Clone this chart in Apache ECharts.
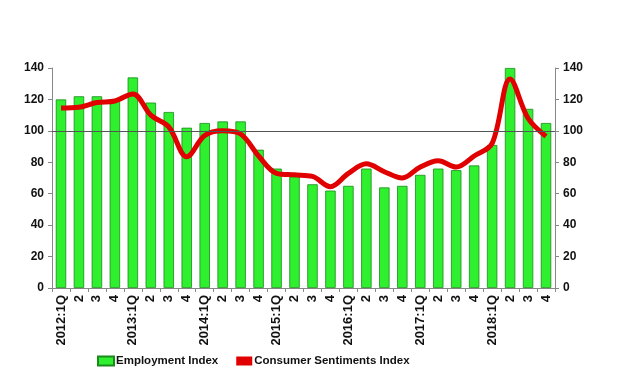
<!DOCTYPE html>
<html><head><meta charset="utf-8">
<script src="https://cdn.jsdelivr.net/npm/echarts@6/dist/echarts.min.js"></script>
<style>html,body{margin:0;padding:0;background:#fff}#c{width:618px;height:377px}</style>
</head><body><div id="c"></div>
<script>
const categories = ["2012:1Q","2","3","4","2013:1Q","2","3","4","2014:1Q","2","3","4","2015:1Q","2","3","4","2016:1Q","2","3","4","2017:1Q","2","3","4","2018:1Q","2","3","4"];
const employmentIndex = [120,122,122,119,134,118,112,102,105,106,106,88,76,71,66,62,65,76,64,65,72,76,75,78,91,140,114,105];
const consumerSentimentsIndex = [114.5,115,118,119,123.5,110,102.5,83.5,97,100,98,84,73,72,71,64.5,73,79,74,70,77,81,77,84,92,133,108,96.5];
const yTicks = [0,20,40,60,80,100,120,140];

const font = '"Liberation Sans", Arial, sans-serif';
const chart = echarts.init(document.getElementById('c'));
const yAxisCommon = {
  type: 'value', min: 0, max: 140, interval: 20,
  axisLine: {show: true, lineStyle: {color: '#888', width: 1}},
  axisTick: {show: true, length: 4, lineStyle: {color: '#888'}},
  splitLine: {show: false},
  axisLabel: {color: '#111', fontFamily: font, fontWeight: 'bold', fontSize: 12,
    formatter: v => yTicks.includes(v) ? String(v) : ''}
};
chart.setOption({
  animation: false,
  grid: {left: 52, right: 63, top: 68, bottom: 89, containLabel: false},
  legend: {
    bottom: 5, left: 92, itemGap: 18, itemWidth: 16, itemHeight: 9,
    textStyle: {color: '#111', fontFamily: font, fontWeight: 'bold', fontSize: 11.5, padding: [0, 0, 0, -3]},
    data: [
      {name: 'Employment Index', icon: 'rect'},
      {name: 'Consumer Sentiments Index', icon: 'rect', itemStyle: {color: '#e00000'}}
    ]
  },
  xAxis: {
    type: 'category', data: categories,
    axisLine: {lineStyle: {color: '#888'}},
    axisTick: {show: true, alignWithLabel: false, length: 4, lineStyle: {color: '#888'}},
    axisLabel: {rotate: 90, interval: 0, color: '#111', fontFamily: font, fontWeight: 'bold', fontSize: 13, margin: 7}
  },
  yAxis: [Object.assign({position: 'left'}, yAxisCommon), Object.assign({position: 'right'}, yAxisCommon)],
  series: [
    {
      name: 'Employment Index', type: 'bar', data: employmentIndex, barWidth: '58%',
      itemStyle: {color: '#2ef02e', borderColor: '#1a8a1a', borderWidth: 0.8},
      markLine: {
        silent: true, symbol: 'none', label: {show: false},
        lineStyle: {color: '#555', type: 'solid', width: 1.2},
        data: [{yAxis: 100}]
      },
      z: 2
    },
    {
      name: 'Consumer Sentiments Index', type: 'line', data: consumerSentimentsIndex,
      smooth: 0.35, showSymbol: false, symbol: 'none',
      lineStyle: {color: '#e00000', width: 5},
      itemStyle: {color: '#e00000'},
      z: 3
    }
  ]
});
</script></body></html>
